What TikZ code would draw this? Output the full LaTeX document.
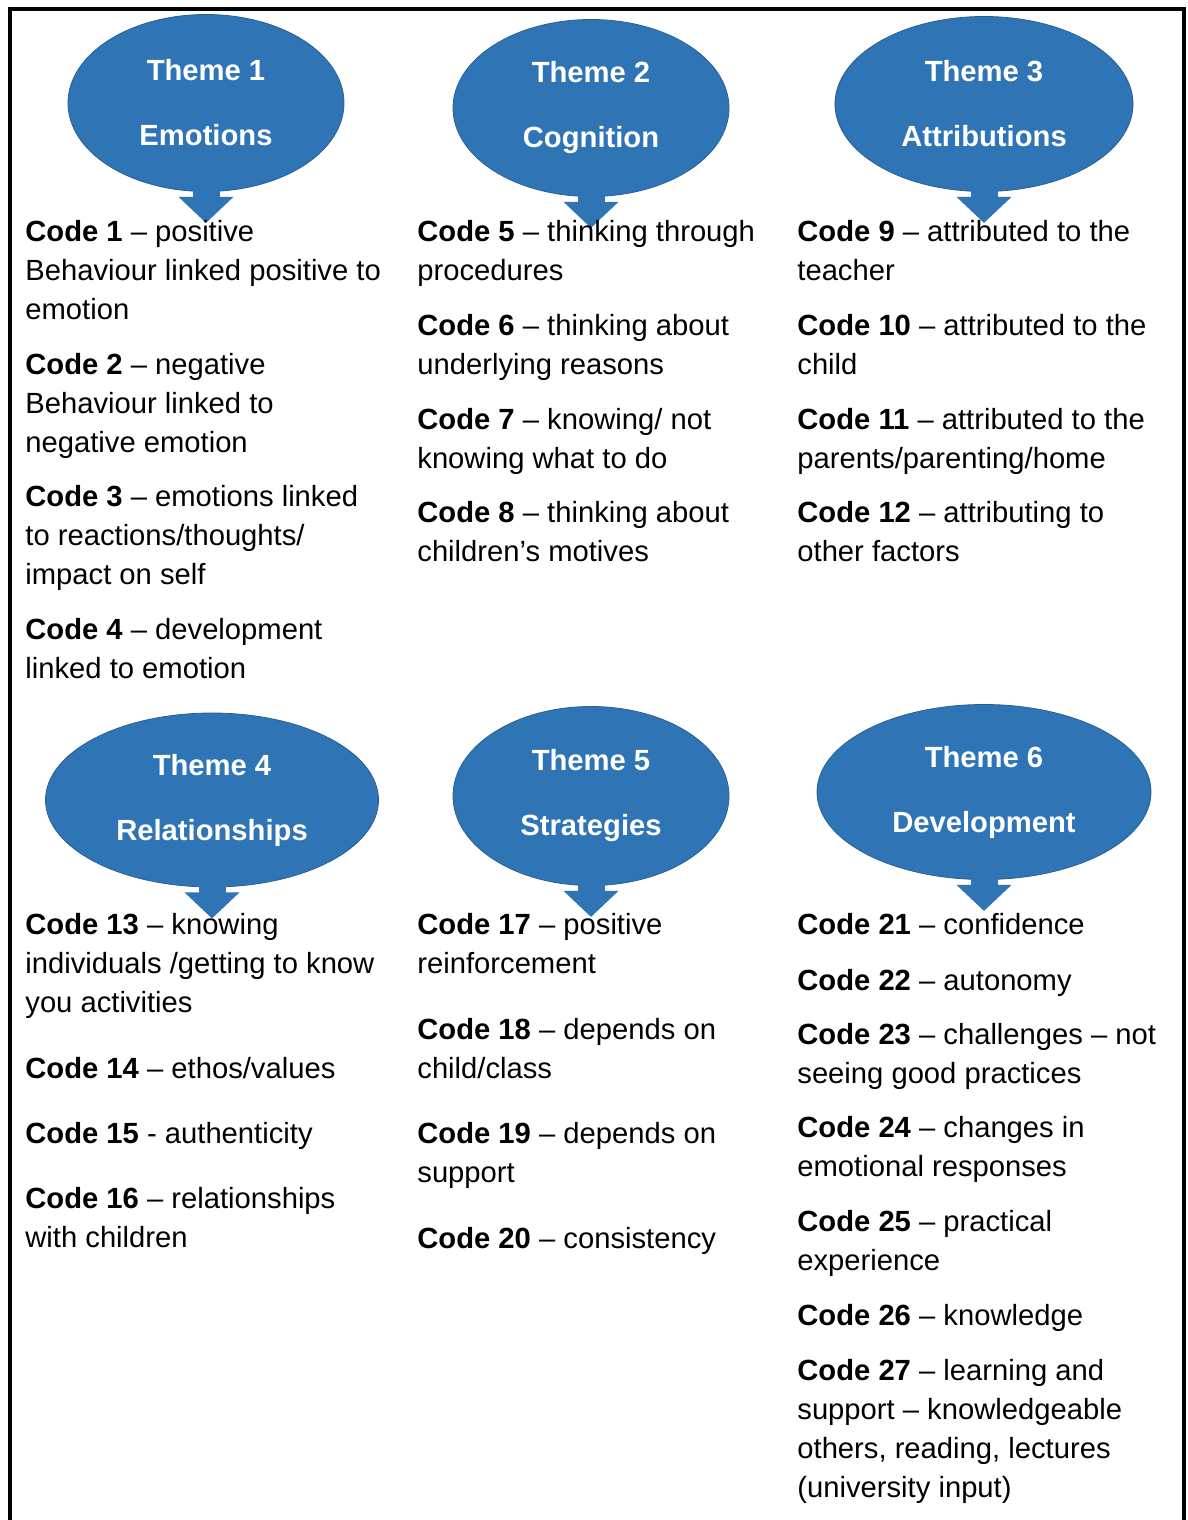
\documentclass[tikz,border=0pt]{standalone}
\usepackage{fontspec}
\setmainfont{Liberation Sans}
\usetikzlibrary{calc,shapes.geometric}

\definecolor{themeblue}{RGB}{47,117,181}
\definecolor{themeedge}{RGB}{40,96,150}

% block arrow under a theme bubble
\newcommand{\themearrow}[1]{%
  \fill[themeblue] ($(#1.south)+(-13.5,-3)$) rectangle ($(#1.south)+(13.5,6)$);
  \fill[themeblue] ($(#1.south)+(-27.5,5)$) -- ($(#1.south)+(27.5,5)$) -- ($(#1.south)+(0,31)$) -- cycle;
}

\begin{document}
\begin{tikzpicture}[
                x=0.5pt, y=-0.5pt,
                theme/.style={
                    ellipse,
                    fill=themeblue,
                    draw=themeedge,
                    line width=0.4pt,
                    inner sep=0pt,
                    align=center,
                    text=white,
                    font=\fontsize{14.6pt}{19.5pt}\selectfont\bfseries
                },
                codetext/.style={
                    anchor=north west,
                    inner sep=0pt,
                    align=left,
                    font=\fontsize{14.6pt}{19.5pt}\selectfont
                }
            ]
                \useasboundingbox (0,0) rectangle (1188,1520);
                \draw[line width=1.8pt] (10,1525) -- (10,9) -- (1184,9) -- (1184,1525);

                % top row of themes
                \node[theme, minimum width=138pt, minimum height=88.5pt] (t1) at (206,103) {Theme 1\\[13pt]Emotions};
                \node[theme, minimum width=138pt, minimum height=88.5pt] (t2) at (591,108) {Theme 2\\[13pt]Cognition};
                \node[theme, minimum width=149pt, minimum height=87.5pt] (t3) at (984,104) {Theme 3\\[13pt]Attributions};
                \themearrow{t1}
                \themearrow{t2}
                \themearrow{t3}

                \node[codetext] (c1) at (25,220) {\textbf{Code 1} – positive\\Behaviour linked positive to\\emotion};
                \node[codetext] (c2) at (25,353) {\textbf{Code 2} – negative\\Behaviour linked to\\negative emotion};
                \node[codetext] (c3) at (25,485) {\textbf{Code 3} – emotions linked\\to reactions/thoughts/\\impact on self};
                \node[codetext] (c4) at (25,618) {\textbf{Code 4} – development\\linked to emotion};

                \node[codetext] (c5) at (417,220) {\textbf{Code 5} – thinking through\\procedures};
                \node[codetext] (c6) at (417,314) {\textbf{Code 6} – thinking about\\underlying reasons};
                \node[codetext] (c7) at (417,408) {\textbf{Code 7} – knowing/ not\\knowing what to do};
                \node[codetext] (c8) at (417,501) {\textbf{Code 8} – thinking about\\children’s motives};

                \node[codetext] (c9) at (797,220) {\textbf{Code 9} – attributed to the\\teacher};
                \node[codetext] (c10) at (797,314) {\textbf{Code 10} – attributed to the\\child};
                \node[codetext] (c11) at (797,408) {\textbf{Code 11} – attributed to the\\parents/parenting/home};
                \node[codetext] (c12) at (797,501) {\textbf{Code 12} – attributing to\\other factors};

                % bottom row of themes
                \node[theme, minimum width=166.5pt, minimum height=87pt] (t4) at (212,800) {Theme 4\\[13pt]Relationships};
                \node[theme, minimum width=138pt, minimum height=89.5pt] (t5) at (591,796) {Theme 5\\[13pt]Strategies};
                \node[theme, minimum width=167pt, minimum height=87.5pt] (t6) at (984,792) {Theme 6\\[13pt]Development};
                \themearrow{t4}
                \themearrow{t5}
                \themearrow{t6}

                \node[codetext] (c13) at (25,913) {\textbf{Code 13} – knowing\\individuals /getting to know\\you activities};
                \node[codetext] (c14) at (25,1057) {\textbf{Code 14} – ethos/values};
                \node[codetext] (c15) at (25,1122) {\textbf{Code 15} - authenticity};
                \node[codetext] (c16) at (25,1187) {\textbf{Code 16} – relationships\\with children};

                \node[codetext] (c17) at (417,913) {\textbf{Code 17} – positive\\reinforcement};
                \node[codetext] (c18) at (417,1018) {\textbf{Code 18} – depends on\\child/class};
                \node[codetext] (c19) at (417,1122) {\textbf{Code 19} – depends on\\support};
                \node[codetext] (c20) at (417,1227) {\textbf{Code 20} – consistency};

                \node[codetext] (c21) at (797,913) {\textbf{Code 21} – confidence};
                \node[codetext] (c22) at (797,969) {\textbf{Code 22} – autonomy};
                \node[codetext] (c23) at (797,1023) {\textbf{Code 23} – challenges – not\\seeing good practices};
                \node[codetext] (c24) at (797,1116) {\textbf{Code 24} – changes in\\emotional responses};
                \node[codetext] (c25) at (797,1210) {\textbf{Code 25} – practical\\experience};
                \node[codetext] (c26) at (797,1304) {\textbf{Code 26} – knowledge};
                \node[codetext] (c27) at (797,1359) {\textbf{Code 27} – learning and\\support – knowledgeable\\others, reading, lectures\\(university input)};
        \end{tikzpicture}
\end{document}
